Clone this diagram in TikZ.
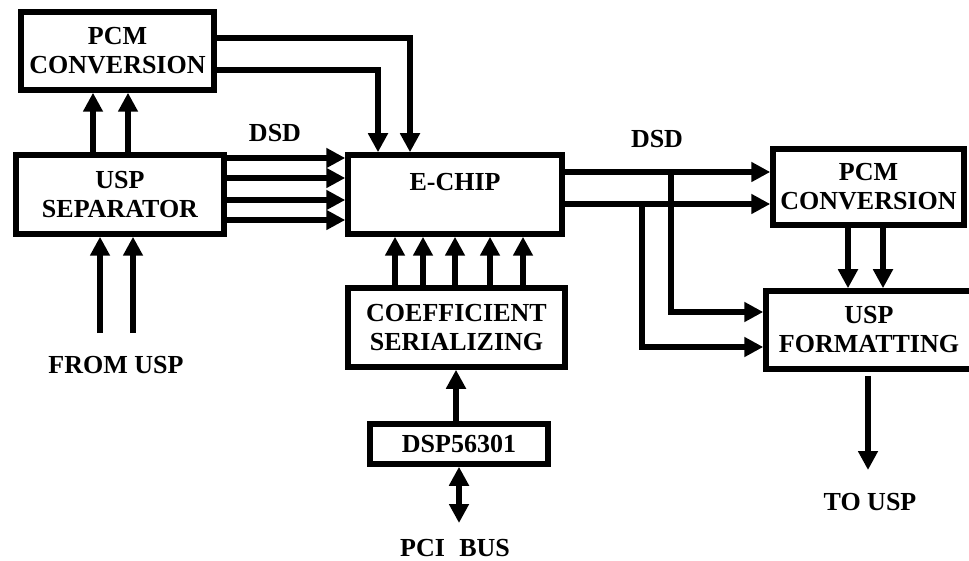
\documentclass[tikz,border=0pt]{standalone}
\usepackage{fontspec}
\setmainfont{Liberation Serif}
\usetikzlibrary{arrows.meta}
\begin{document}
\begin{tikzpicture}[x=1pt,y=-1pt,
  box/.style={draw, line width=5.5pt, inner sep=0pt, align=center, font=\bfseries\fontsize{26}{29}\selectfont},
  lbl/.style={inner sep=0pt, font=\bfseries\fontsize{26}{29}\selectfont},
  arr/.style={line width=5.5pt, -{Triangle[length=19pt,width=19pt]}},
  darr/.style={line width=5.5pt, {Triangle[length=19pt,width=19pt]}-{Triangle[length=19pt,width=19pt]}}]
\useasboundingbox (0,0) rectangle (969,561);

% boxes
\node[box, minimum width=193pt, minimum height=78pt] (pcmA) at (117.5,51) {PCM\\CONVERSION};
\node[box, minimum width=208pt, minimum height=79pt] (sep) at (120,194.5) {USP\\SEPARATOR};
\node[box, minimum width=214pt, minimum height=79pt] (echip) at (455,194.5) {};
\node[lbl] (echiplbl) at (455,182) {E-CHIP};
\node[box, minimum width=191pt, minimum height=76pt] (pcmB) at (868.5,187) {PCM\\CONVERSION};
\node[box, minimum width=206pt, minimum height=78pt] (uspf) at (869,330) {USP\\FORMATTING};
\node[box, minimum width=217pt, minimum height=79pt] (coef) at (456.5,327.5) {COEFFICIENT\\SERIALIZING};
\node[box, minimum width=178pt, minimum height=40pt] (dsp) at (459,444) {DSP56301};

% labels
\node[lbl] (dsdA) at (275,133) {DSD};
\node[lbl] (dsdB) at (657,139) {DSD};
\node[lbl] (fromusp) at (116,365) {FROM USP};
\node[lbl] (tousp) at (870,502) {TO USP};
\node[lbl] (pci) at (455,548) {PCI\hspace{0.55em}BUS};

% free ends
\coordinate (fromA) at (100,333);
\coordinate (fromB) at (133,333);
\coordinate (pciend) at (459,523);
\coordinate (toend) at (868,470);
\coordinate (brA) at (671,172);
\coordinate (brB) at (642,204);

% separator -> top PCM
\draw[arr] (sep.north -| 93,0) -- (pcmA.south -| 93,0);
\draw[arr] (sep.north -| 128,0) -- (pcmA.south -| 128,0);

% top PCM -> E-CHIP
\draw[arr] (pcmA.east |- 0,38) -| (410,0 |- echip.north);
\draw[arr] (pcmA.east |- 0,70) -| (378,0 |- echip.north);

% separator -> E-CHIP (DSD)
\foreach \yy in {158,178,200,220}
  \draw[arr] (sep.east |- 0,\yy) -- (echip.west |- 0,\yy);

% from USP
\draw[arr] (fromA) -- (fromA |- sep.south);
\draw[arr] (fromB) -- (fromB |- sep.south);

% coefficient -> E-CHIP
\foreach \xx in {395,423,455,490,523}
  \draw[arr] (coef.north -| \xx,0) -- (echip.south -| \xx,0);

% DSP -> coefficient
\draw[arr] (dsp.north -| 456,0) -- (coef.south -| 456,0);
\draw[darr] (dsp.south -| pciend) -- (pciend);

% E-CHIP -> right PCM
\draw[arr] (echip.east |- brA) -- (pcmB.west |- brA);
\draw[arr] (echip.east |- brB) -- (pcmB.west |- brB);

% branches -> USP formatting
\draw[arr] (brA) |- (uspf.west |- 0,312);
\draw[arr] (brB) |- (uspf.west |- 0,347);

% right PCM -> USP formatting
\draw[arr] (pcmB.south -| 848,0) -- (uspf.north -| 848,0);
\draw[arr] (pcmB.south -| 883,0) -- (uspf.north -| 883,0);

% USP formatting -> to USP
\draw[arr] ([yshift=-4pt]uspf.south -| toend) -- (toend);
\end{tikzpicture}
\end{document}
